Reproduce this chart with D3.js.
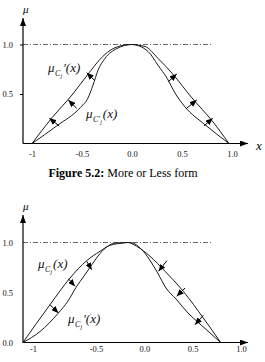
<!DOCTYPE html>
<html>
<head>
<meta charset="utf-8">
<script src="https://cdn.jsdelivr.net/npm/d3@7"></script>
<style>
  body { margin: 0; background: #fff; }
  svg { display: block; }
  text { font-family: "Liberation Serif", "Times New Roman", serif; }
</style>
</head>
<body>
<svg id="chart" width="265" height="362"></svg>
<script>
// tick values / labels
const xTickValues = [-1, -0.5, 0, 0.5, 1]
const xTickLabels = ["-1", "-0.5", "0.0", "0.5", "1.0"]
const topYTicks = [0.5, 1]
const bottomYTicks = [0, 0.5, 1]

// Figure 5.2 - mu(x) (inner) and more-or-less mu'(x) (outer)
const topInnerX = [-1, -0.75, -0.52, -0.44, -0.39, -0.34, -0.27, -0.15, 0, 0.16, 0.26, 0.35, 0.43, 0.53, 0.73, 0.97]
const topInnerY = [0, 0.18, 0.36, 0.46, 0.59, 0.74, 0.86, 0.96, 1.0, 0.93, 0.79, 0.66, 0.51, 0.37, 0.19, 0]
const topOuterX = [-1, -0.8, -0.6, -0.44, -0.32, -0.22, -0.12, -0.02, 0.13, 0.26, 0.4, 0.6, 0.8, 0.97]
const topOuterY = [0, 0.26, 0.49, 0.7, 0.85, 0.94, 0.985, 1.0, 0.98, 0.86, 0.71, 0.46, 0.23, 0]
// arrows: [x from, y from, x to, y to]
const topArrows = [
  [-0.727, 0.177, -0.827, 0.255],
  [-0.553, 0.356, -0.637, 0.439],
  [-0.37, 0.634, -0.453, 0.715],
  [0.363, 0.624, 0.447, 0.702],
  [0.547, 0.356, 0.647, 0.439],
  [0.72, 0.177, 0.807, 0.255]
]

// second figure - mu(x) (upper) shrinking to mu'(x) (lower)
const botUpperX = [-1.08, -0.865, -0.706, -0.574, -0.459, -0.355, -0.218, -0.17, -0.079, 0.059, 0.214, 0.403, 0.61, 0.79]
const botUpperY = [0, 0.378, 0.645, 0.818, 0.912, 0.972, 0.995, 1.0, 0.962, 0.862, 0.712, 0.512, 0.245, 0]
const botLowerX = [-1.08, -0.944, -0.802, -0.722, -0.659, -0.595, -0.54, -0.479, -0.397, -0.293, -0.148, -0.011, 0.076, 0.144, 0.224, 0.328, 0.452, 0.576, 0.79]
const botLowerY = [0, 0.11, 0.29, 0.415, 0.55, 0.665, 0.765, 0.865, 0.95, 0.995, 1.0, 0.912, 0.795, 0.685, 0.545, 0.435, 0.295, 0.185, 0]
const botArrows = [
  [-0.865, 0.378, -0.799, 0.295],
  [-0.72, 0.638, -0.667, 0.562],
  [-0.574, 0.812, -0.534, 0.728],
  [0.233, 0.818, 0.147, 0.712],
  [0.421, 0.545, 0.335, 0.462],
  [0.61, 0.272, 0.524, 0.178]
]

const svg = d3.select("#chart")
const defs = svg.append("defs")

defs.append("marker")
    .attr("id", "axisHead")
    .attr("viewBox", "0 0 8 6")
    .attr("refX", 8).attr("refY", 3)
    .attr("markerWidth", 8).attr("markerHeight", 6)
    .attr("markerUnits", "userSpaceOnUse")
    .attr("orient", "auto")
  .append("path").attr("d", "M0,0L8,3L0,6Z").attr("fill", "#000")

defs.append("marker")
    .attr("id", "head")
    .attr("viewBox", "0 0 7 6")
    .attr("refX", 7).attr("refY", 3)
    .attr("markerWidth", 7).attr("markerHeight", 6)
    .attr("markerUnits", "userSpaceOnUse")
    .attr("orient", "auto")
  .append("path").attr("d", "M0,0L7,3L0,6Z").attr("fill", "#000")

function muLabel(g, px, py, subPrime, prime) {
  const t = g.append("text")
      .attr("x", px).attr("y", py)
      .attr("font-style", "italic")
      .attr("fill", "#111")
  t.append("tspan").attr("font-size", 13).text("μ")
  t.append("tspan").attr("font-size", 8).attr("dx", 0.5).attr("dy", 4).text(subPrime ? "C′" : "C")
  t.append("tspan").attr("font-size", 6).attr("dy", 2).text("j")
  t.append("tspan").attr("font-size", 13).attr("dx", 1).attr("dy", -6).text((prime ? "'" : "") + "(x)")
}

function panel(o) {
  const g = svg.append("g")
  const xs = o.x, ys = o.y
  const axisX = 23, y0 = ys(0)

  // reference line at mu = 1
  g.append("line")
      .attr("x1", axisX).attr("x2", xs(o.dashEnd))
      .attr("y1", ys(1)).attr("y2", ys(1))
      .attr("stroke", "#444").attr("stroke-width", 0.8)
      .attr("stroke-dasharray", "5,2,1,2")

  // axes
  g.append("line")
      .attr("x1", axisX).attr("y1", y0).attr("x2", axisX).attr("y2", o.yTip)
      .attr("stroke", "#000").attr("stroke-width", 1.2)
      .attr("marker-end", "url(#axisHead)")
  g.append("line")
      .attr("x1", axisX).attr("y1", y0).attr("x2", 248).attr("y2", y0)
      .attr("stroke", "#000").attr("stroke-width", 1.2)
      .attr("marker-end", "url(#axisHead)")

  g.append("g")
      .attr("transform", `translate(${axisX},0)`)
      .call(d3.axisLeft(ys).tickValues(o.yTicks).tickFormat(d3.format(".1f"))
              .tickSize(o.tickSize).tickPadding(10 - o.tickSize))
      .call(a => a.select(".domain").remove())
      .call(a => a.selectAll("text").attr("font-size", 8.5).attr("fill", "#111")
                  .attr("font-family", "Liberation Serif"))

  g.append("g")
      .attr("transform", `translate(0,${y0})`)
      .call(d3.axisBottom(xs).tickValues(xTickValues).tickFormat((d, i) => xTickLabels[i])
              .tickSize(0).tickPadding(o.xPad))
      .call(a => a.select(".domain").remove())
      .call(a => a.selectAll("text").attr("font-size", 8.5).attr("fill", "#111")
                  .attr("font-family", "Liberation Serif"))

  // curves
  const line = d3.line()
      .x(d => xs(d[0]))
      .y(d => ys(d[1]))
      .curve(d3.curveMonotoneX)
  o.curves.forEach(c => {
    g.append("path")
        .datum(d3.zip(c[0], c[1]))
        .attr("fill", "none")
        .attr("stroke", "#1a1a1a")
        .attr("stroke-width", 1)
        .attr("d", line)
  })

  g.selectAll(".arrow")
    .data(o.arrows)
    .join("line")
      .attr("class", "arrow")
      .attr("x1", d => xs(d[0])).attr("y1", d => ys(d[1]))
      .attr("x2", d => xs(d[2])).attr("y2", d => ys(d[3]))
      .attr("stroke", "#000").attr("stroke-width", 1)
      .attr("marker-end", "url(#head)")

  g.append("text")
      .attr("x", axisX).attr("y", o.yTip - 5)
      .attr("font-style", "italic").attr("font-size", 11)
      .text("μ")
  return g
}

// top figure
const xTop = d3.scaleLinear().domain([-1, 1]).range([32, 232])
const yTop = d3.scaleLinear().domain([0, 1]).range([143.5, 44.5])
const gTop = panel({
  x: xTop, y: yTop, yTip: 18, dashEnd: 0.8,
  yTicks: topYTicks, tickSize: 3, xPad: 7,
  curves: [[topInnerX, topInnerY], [topOuterX, topOuterY]],
  arrows: topArrows
})
muLabel(gTop, xTop(-0.84), yTop(0.72), false, true)
muLabel(gTop, xTop(-0.46), yTop(0.26), true, false)
gTop.append("text")
    .attr("x", 256).attr("y", 150)
    .attr("font-style", "italic").attr("font-size", 13)
    .text("x")

svg.append("text")
    .attr("x", 123).attr("y", 177)
    .attr("text-anchor", "middle")
    .attr("font-size", 12)
    .call(t => t.append("tspan").attr("font-weight", "bold").text("Figure 5.2:"))
    .call(t => t.append("tspan").text(" More or Less form"))

// bottom figure
const xBot = d3.scaleLinear().domain([-1, -0.5, 1]).range([33, 96, 241])
const yBot = d3.scaleLinear().domain([0, 1]).range([342.5, 242.5])
const gBot = panel({
  x: xBot, y: yBot, yTip: 215, dashEnd: 0.7,
  yTicks: bottomYTicks, tickSize: 0, xPad: 3.5,
  curves: [[botUpperX, botUpperY], [botLowerX, botLowerY]],
  arrows: botArrows
})
muLabel(gBot, xBot(-0.96), yBot(0.75), false, false)
muLabel(gBot, xBot(-0.722), yBot(0.195), false, true)
</script>
</body>
</html>
